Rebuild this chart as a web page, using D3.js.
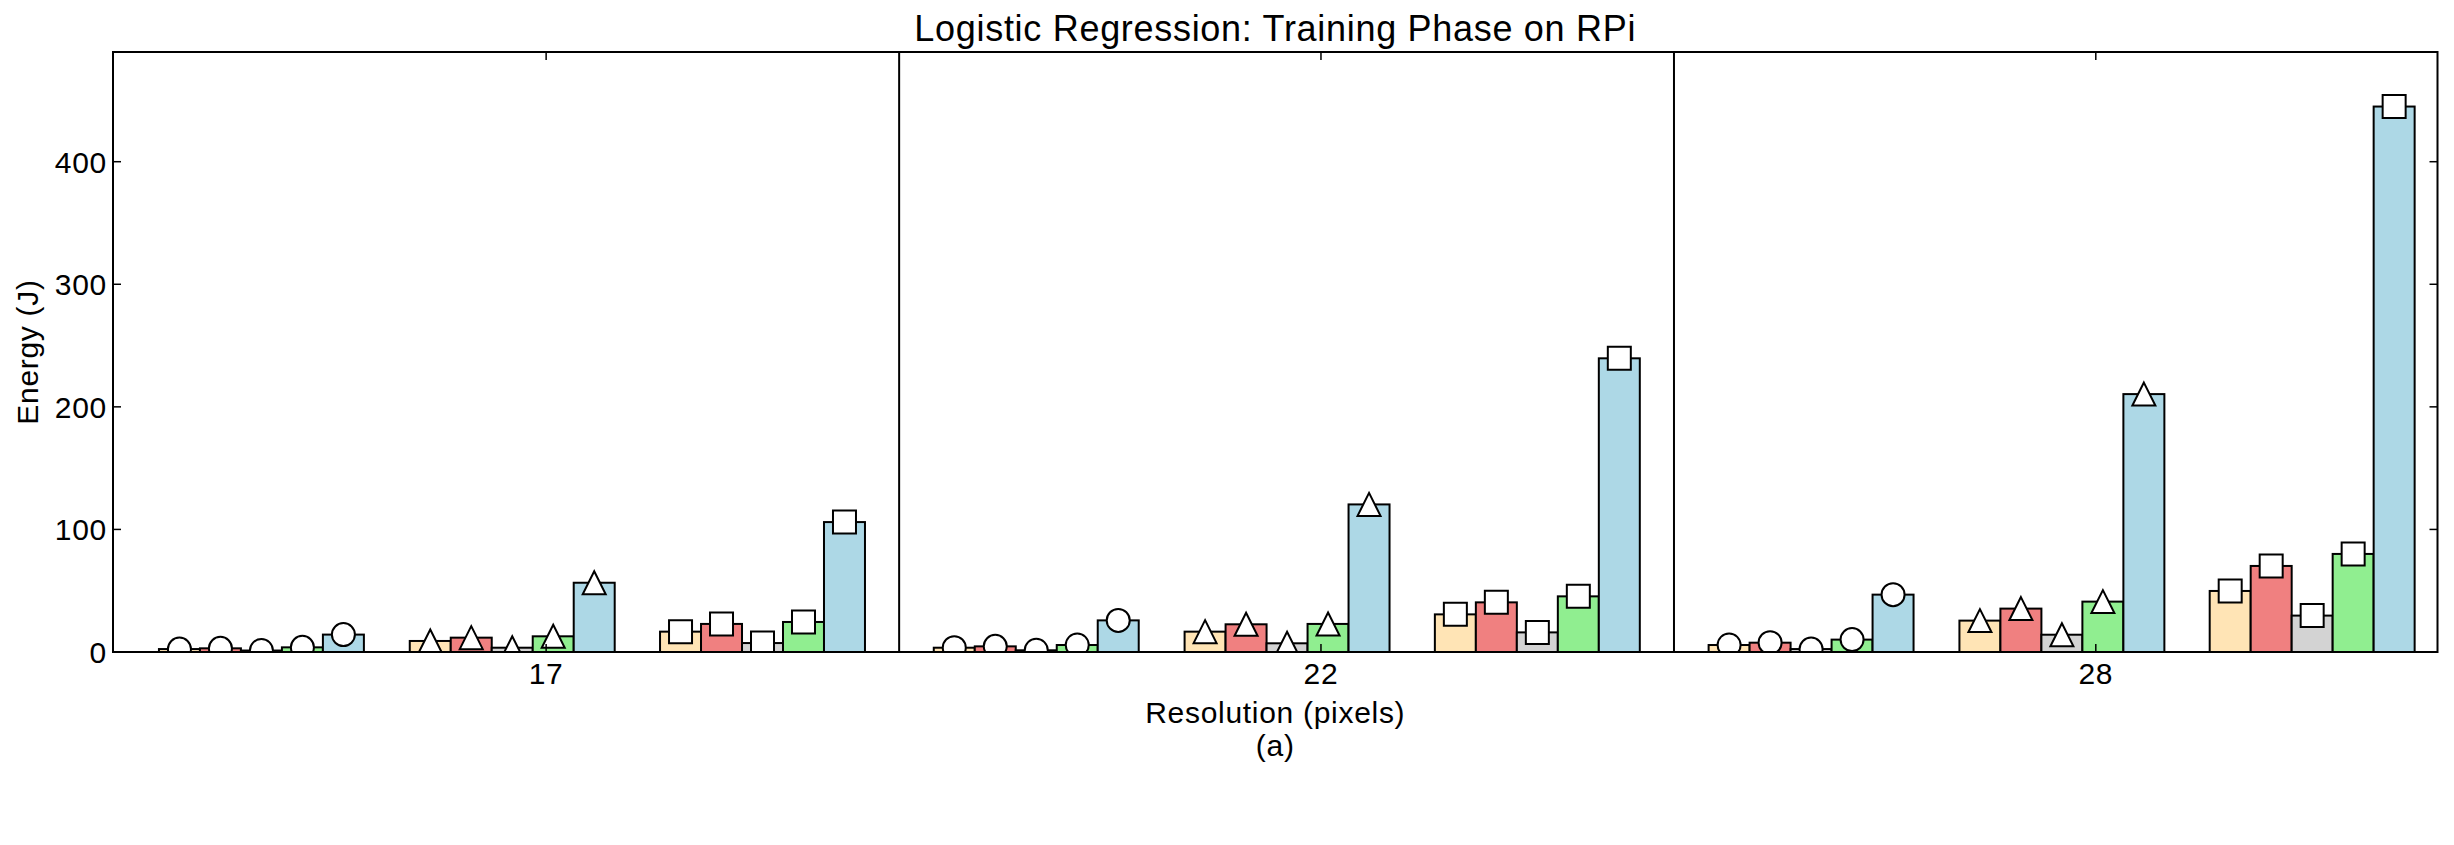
<!DOCTYPE html>
<html>
<head>
<meta charset="utf-8">
<script src="https://cdn.jsdelivr.net/npm/d3@7"></script>
<style>
  body { margin: 0; background: #fff; }
  text { font-family: "Liberation Sans", Arial, Helvetica, sans-serif; fill: #000; letter-spacing: 0.7px; }
</style>
</head>
<body>
<div id="chart"></div>
<script>
const resolutions = ["17", "22", "28"];
const barColors = ["#FFE4B5", "#F08080", "#D3D3D3", "#90EE90", "#ADD8E6"];
const markerTypes = ["circle", "triangle", "square"];

// energy (J), one row per resolution, five bars each
const circleValues = [
  [2.4, 3.0, 1.2, 3.8, 14.2],
  [3.5, 4.6, 1.4, 5.7, 25.8],
  [5.7, 7.6, 2.4, 10.1, 46.8]
];
const triangleValues = [
  [9.0, 11.7, 3.5, 12.8, 56.5],
  [16.6, 22.6, 7.1, 22.9, 120.4],
  [25.6, 35.4, 14.1, 41.1, 210.4]
];
const squareValues = [
  [16.6, 22.9, 7.3, 24.5, 106],
  [30.7, 40.5, 16.0, 45.4, 239.6],
  [49.8, 70.2, 29.7, 80.0, 445]
];
const yTicks = [0, 100, 200, 300, 400];

const width = 2454, height = 845;
const plotL = 113, plotR = 2437.5, plotT = 52, plotB = 652;

const sets = [circleValues, triangleValues, squareValues];
const subOffset = [0.0593, 0.383, 0.706];
const barW = 0.0529;
const tickOffset = 0.559;

const rows = [];
resolutions.forEach((r, g) => {
  sets.forEach((set, s) => {
    set[g].forEach((v, k) => {
      rows.push({ g, s, k, value: v, x0: g + subOffset[s] + k * barW });
    });
  });
});

const x = d3.scaleLinear().domain([0, 3]).range([plotL, plotR]);
const ymax = d3.max(rows, d => d.value) * 1.1;
const y = d3.scaleLinear().domain([0, ymax]).range([plotB, plotT]);

const svg = d3.select("#chart")
  .append("svg")
  .attr("width", width)
  .attr("height", height);

svg.append("clipPath").attr("id", "plot")
  .append("rect")
  .attr("x", plotL).attr("y", plotT)
  .attr("width", plotR - plotL).attr("height", plotB - plotT);

const plot = svg.append("g").attr("clip-path", "url(#plot)");

plot.append("g")
  .attr("stroke", "#000")
  .attr("stroke-width", 2)
  .selectAll("rect")
  .data(rows)
  .join("rect")
  .attr("x", d => x(d.x0))
  .attr("width", x(barW) - x(0))
  .attr("y", d => y(d.value))
  .attr("height", d => y(0) - y(d.value))
  .attr("fill", d => barColors[d.k]);

const symbols = {
  circle: d3.symbol().type(d3.symbolCircle).size(Math.PI * 11.5 * 11.5),
  square: d3.symbol().type(d3.symbolSquare).size(23 * 23)
};
const tri = "M0,-11.5L11.5,11.5L-11.5,11.5Z";

plot.append("g")
  .attr("stroke", "#000")
  .attr("stroke-width", 2)
  .attr("fill", "#fff")
  .selectAll("path")
  .data(rows)
  .join("path")
  .attr("transform", d => `translate(${x(d.x0 + barW / 2)},${y(d.value)})`)
  .attr("d", d => {
    const t = markerTypes[d.s];
    return t === "triangle" ? tri : symbols[t]();
  });

// separators between resolutions
svg.append("g")
  .attr("stroke", "#000")
  .attr("stroke-width", 2)
  .selectAll("line")
  .data([1.0146, 2.0146])
  .join("line")
  .attr("x1", d => x(d)).attr("x2", d => x(d))
  .attr("y1", plotT).attr("y2", plotB);

// frame
svg.append("rect")
  .attr("x", plotL).attr("y", plotT)
  .attr("width", plotR - plotL).attr("height", plotB - plotT)
  .attr("fill", "none").attr("stroke", "#000").attr("stroke-width", 2);

// y ticks, inward on both sides
const yt = svg.append("g").attr("stroke", "#000").attr("stroke-width", 1.5);
yTicks.forEach(t => {
  yt.append("line").attr("x1", plotL).attr("x2", plotL + 8).attr("y1", y(t)).attr("y2", y(t));
  yt.append("line").attr("x1", plotR).attr("x2", plotR - 8).attr("y1", y(t)).attr("y2", y(t));
});
svg.append("g")
  .attr("font-size", 30)
  .attr("text-anchor", "end")
  .selectAll("text")
  .data(yTicks)
  .join("text")
  .attr("x", plotL - 6)
  .attr("y", d => y(d))
  .attr("dy", "0.36em")
  .text(d => d);

// x ticks, inward top and bottom
const xt = svg.append("g").attr("stroke", "#000").attr("stroke-width", 1.5);
resolutions.forEach((r, g) => {
  const px = x(g + tickOffset);
  xt.append("line").attr("x1", px).attr("x2", px).attr("y1", plotB).attr("y2", plotB - 8);
  xt.append("line").attr("x1", px).attr("x2", px).attr("y1", plotT).attr("y2", plotT + 8);
});
svg.append("g")
  .attr("font-size", 30)
  .attr("text-anchor", "middle")
  .selectAll("text")
  .data(resolutions)
  .join("text")
  .attr("x", (d, i) => x(i + tickOffset))
  .attr("y", 683.5)
  .text(d => d);

const cx = (plotL + plotR) / 2;
svg.append("text")
  .attr("x", cx).attr("y", 723)
  .attr("font-size", 30).attr("text-anchor", "middle")
  .text("Resolution (pixels)");
svg.append("text")
  .attr("x", cx).attr("y", 756)
  .attr("font-size", 30).attr("text-anchor", "middle")
  .text("(a)");

svg.append("text")
  .attr("transform", `translate(37.5,${(plotT + plotB) / 2}) rotate(-90)`)
  .attr("font-size", 30).attr("text-anchor", "middle")
  .text("Energy (J)");

svg.append("text")
  .attr("x", cx).attr("y", 41)
  .attr("font-size", 36).attr("text-anchor", "middle")
  .text("Logistic Regression: Training Phase on RPi");
</script>
</body>
</html>
